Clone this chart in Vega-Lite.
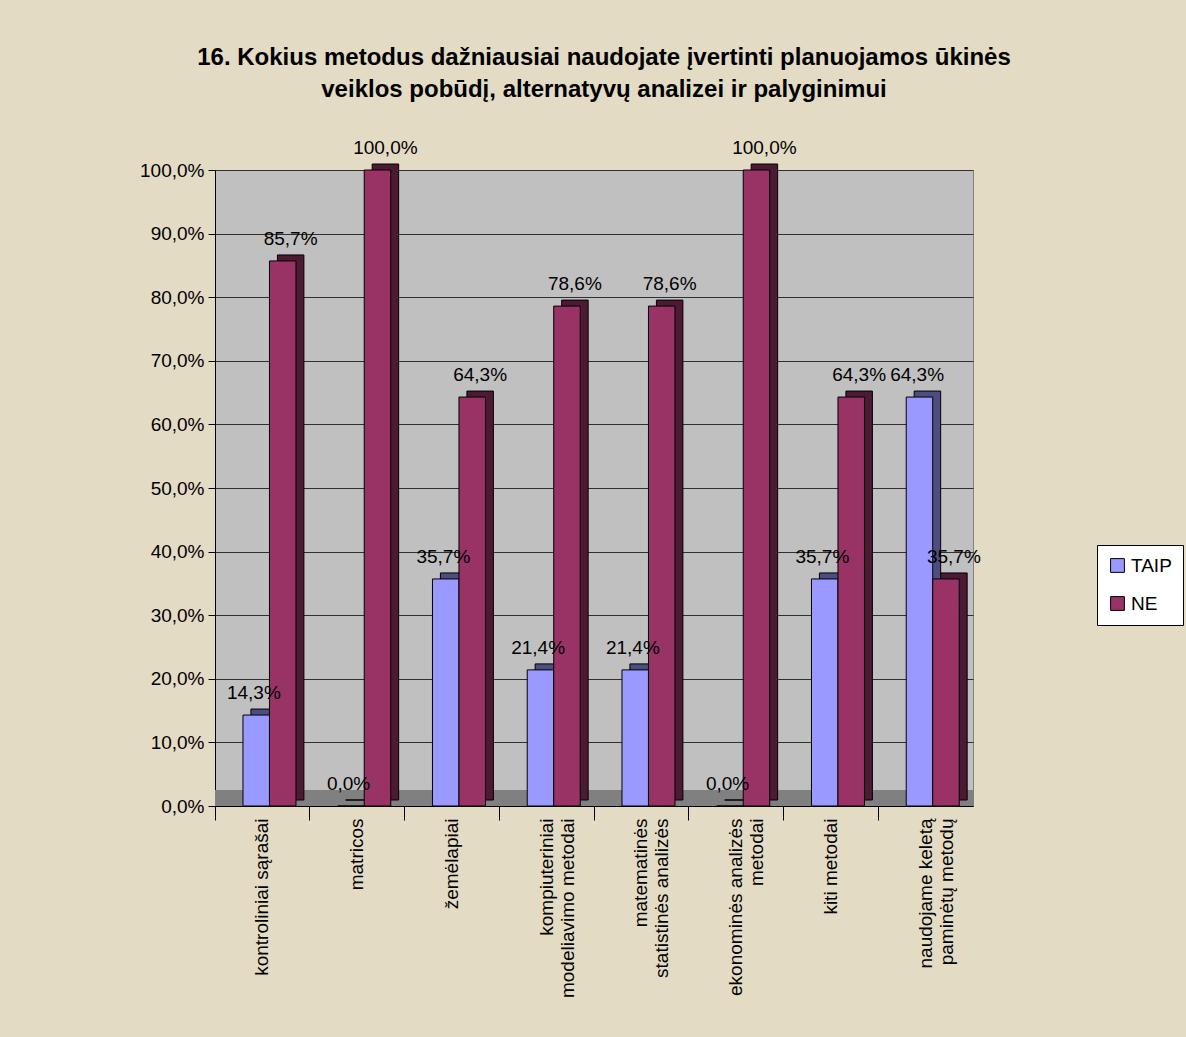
{
  "$schema": "https://vega.github.io/schema/vega-lite/v6.json",
  "autosize": "none",
  "width": 758,
  "height": 636,
  "padding": {"left": 215, "top": 170, "right": 213, "bottom": 231},
  "background": "#E4DBC4",
  "title": {
    "text": ["16. Kokius metodus dažniausiai naudojate įvertinti planuojamos ūkinės", "veiklos pobūdį, alternatyvų analizei ir palyginimui"],
    "font": "Liberation Sans",
    "fontSize": 24,
    "fontWeight": "bold",
    "color": "#000000",
    "lineHeight": 32,
    "offset": 37,
    "anchor": "middle",
    "dx": 10
  },
  "config": {
    "locale": {"number": {"decimal": ",", "thousands": ".", "grouping": [3], "currency": ["", " €"]}},
    "view": {"fill": "#C0C0C0", "stroke": "#808080"},
    "font": "Liberation Sans"
  },
  "data": {
    "values": [
      {"metodas": "kontroliniai sąrašai", "atsakymas": "TAIP", "dalis": 0.143},
      {"metodas": "kontroliniai sąrašai", "atsakymas": "NE", "dalis": 0.857},
      {"metodas": "matricos", "atsakymas": "TAIP", "dalis": 0.0},
      {"metodas": "matricos", "atsakymas": "NE", "dalis": 1.0},
      {"metodas": "žemėlapiai", "atsakymas": "TAIP", "dalis": 0.357},
      {"metodas": "žemėlapiai", "atsakymas": "NE", "dalis": 0.643},
      {"metodas": "kompiuteriniai modeliavimo metodai", "atsakymas": "TAIP", "dalis": 0.214},
      {"metodas": "kompiuteriniai modeliavimo metodai", "atsakymas": "NE", "dalis": 0.786},
      {"metodas": "matematinės statistinės analizės", "atsakymas": "TAIP", "dalis": 0.214},
      {"metodas": "matematinės statistinės analizės", "atsakymas": "NE", "dalis": 0.786},
      {"metodas": "ekonominės analizės metodai", "atsakymas": "TAIP", "dalis": 0.0},
      {"metodas": "ekonominės analizės metodai", "atsakymas": "NE", "dalis": 1.0},
      {"metodas": "kiti metodai", "atsakymas": "TAIP", "dalis": 0.357},
      {"metodas": "kiti metodai", "atsakymas": "NE", "dalis": 0.643},
      {"metodas": "naudojame keletą paminėtų metodų", "atsakymas": "TAIP", "dalis": 0.643},
      {"metodas": "naudojame keletą paminėtų metodų", "atsakymas": "NE", "dalis": 0.357}
    ]
  },
  "encoding": {
    "x": {
      "field": "metodas",
      "type": "nominal",
      "sort": null,
      "scale": {"paddingInner": 0, "paddingOuter": 0}
    },
    "xOffset": {"field": "atsakymas", "type": "nominal", "sort": ["TAIP", "NE"], "scale": {"paddingInner": 0, "paddingOuter": 0.788, "align": 0.67}},
    "y": {
      "field": "dalis",
      "type": "quantitative",
      "scale": {"domain": [0, 1]},
      "axis": {
        "title": null,
        "format": ".1%",
        "values": [0, 0.1, 0.2, 0.3, 0.4, 0.5, 0.6, 0.7, 0.8, 0.9, 1.0],
        "labelOverlap": false,
        "labelFontSize": 19,
        "labelColor": "#000000",
        "labelFont": "Liberation Sans",
        "domainColor": "#000000",
        "tickColor": "#000000",
        "tickSize": 7,
        "labelPadding": 4,
        "gridColor": "#303030",
        "gridWidth": 1
      }
    }
  },
  "layer": [
    {
      "mark": {"type": "rect", "color": "#808080"},
      "encoding": {
        "x": null,
        "xOffset": null,
        "y": {"datum": 0, "type": "quantitative"},
        "y2": {"datum": 0.025}
      }
    },
    {
      "mark": {"type": "bar", "yOffset": -6, "stroke": "#000000", "strokeWidth": 1},
      "encoding": {
        "x": {
          "field": "metodas",
          "type": "nominal",
          "sort": null,
          "axis": {
            "title": null,
            "orient": "bottom",
            "labelAngle": -90,
            "labelFontSize": 19,
            "labelColor": "#000000",
            "labelFont": "Liberation Sans",
            "labelLineHeight": 21,
            "labelPadding": 12,
            "ticks": false,
            "domainColor": "#000000",
            "labelExpr": "datum.value == 'kompiuteriniai modeliavimo metodai' ? ['kompiuteriniai', 'modeliavimo metodai'] : datum.value == 'matematinės statistinės analizės' ? ['matematinės', 'statistinės analizės'] : datum.value == 'ekonominės analizės metodai' ? ['ekonominės analizės', 'metodai'] : datum.value == 'naudojame keletą paminėtų metodų' ? ['naudojame keletą', 'paminėtų metodų'] : datum.value"
          }
        },
        "xOffset": {"field": "atsakymas", "type": "nominal", "sort": ["TAIP", "NE"], "scale": {"paddingInner": 0, "paddingOuter": 0.788, "align": 0.86}},
        "color": {
          "field": "atsakymas",
          "type": "nominal",
          "scale": {"domain": ["TAIP", "NE"], "range": ["#4D4D80", "#4D1A33"]},
          "legend": null
        }
      }
    },
    {
      "mark": {"type": "bar", "stroke": "#000000", "strokeWidth": 1},
      "encoding": {
        "x": {
          "field": "metodas",
          "type": "nominal",
          "sort": null,
          "axis": {
            "title": null,
            "orient": "bottom",
            "labels": false,
            "bandPosition": 0,
            "ticks": true,
            "tickSize": 14,
            "tickColor": "#000000",
            "domain": false
          }
        },
        "color": {
          "field": "atsakymas",
          "type": "nominal",
          "scale": {"domain": ["TAIP", "NE"], "range": ["#9999FF", "#993366"]},
          "legend": {
            "title": null,
            "orient": "none",
            "legendX": 882,
            "legendY": 375,
            "fillColor": "#FFFFFF",
            "strokeColor": "#000000",
            "padding": 11,
            "symbolType": "square",
            "symbolSize": 190,
            "symbolStrokeColor": "#000000",
            "symbolStrokeWidth": 1,
            "labelFontSize": 19,
            "labelColor": "#000000",
            "labelFont": "Liberation Sans",
            "rowPadding": 18,
            "labelOffset": 4
          }
        }
      }
    },
    {
      "mark": {"type": "text", "fontSize": 19, "font": "Liberation Sans", "color": "#000000", "baseline": "bottom", "dy": -12, "dx": 0},
      "encoding": {
        "x": {"field": "metodas", "type": "nominal", "sort": null, "axis": null},
        "xOffset": {"field": "atsakymas", "type": "nominal", "sort": ["TAIP", "NE"], "scale": {"paddingInner": 0, "paddingOuter": 0.788, "align": 0.67}},
        "text": {"field": "dalis", "type": "quantitative", "format": ".1%"}
      }
    }
  ],
  "resolve": {"scale": {"color": "independent", "xOffset": "independent"}, "axis": {"x": "independent"}}
}
